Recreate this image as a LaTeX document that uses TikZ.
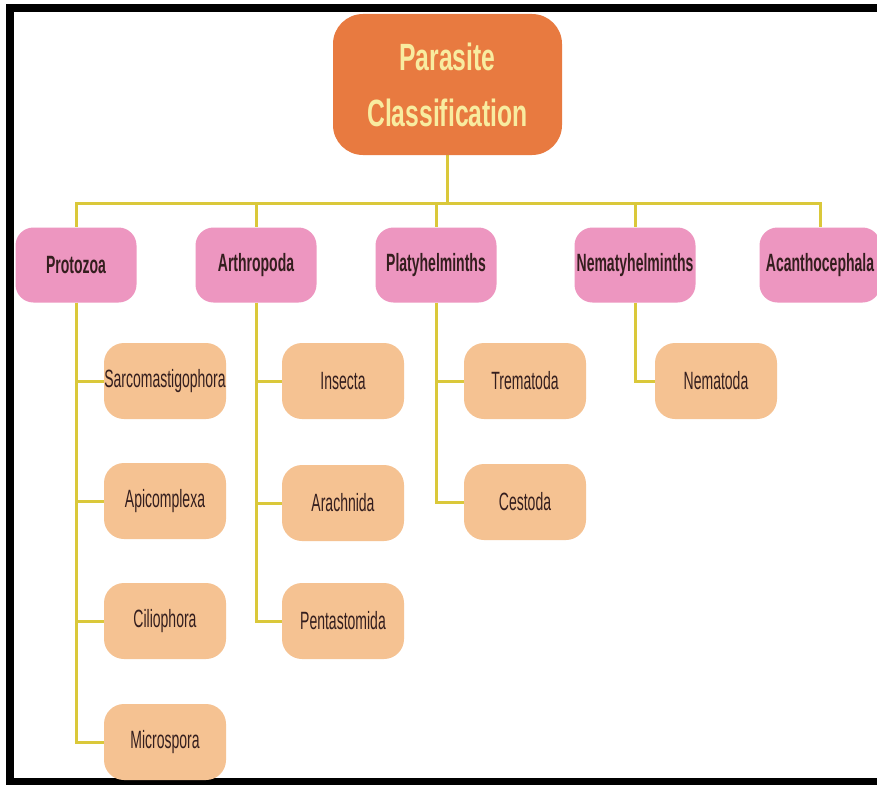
\documentclass[tikz,border=0pt]{standalone}
\usepackage{fontspec}
\newfontfamily\titlefont{Liberation Sans}[FakeStretch=0.65]
\newfontfamily\narrowfont{Liberation Sans}[FakeStretch=0.56]
\usepackage{xcolor}
\usepackage{tikz}
\usetikzlibrary{positioning, backgrounds}

\definecolor{rootorange}{RGB}{232,122,64}
\definecolor{rootText}{RGB}{248,236,160}
\definecolor{phylumPink}{RGB}{237,150,192}
\definecolor{groupTan}{RGB}{245,194,146}
\definecolor{linkYellow}{RGB}{218,200,58}
\definecolor{darkText}{RGB}{52,30,30}

\tikzset{
  rootbox/.style={fill=rootorange, rounded corners=30pt, minimum width=229pt,
    minimum height=141pt, inner sep=0pt, align=center, text=rootText,
    font=\titlefont\bfseries\fontsize{38}{56}\selectfont},
  phylum/.style={fill=phylumPink, rounded corners=18pt, minimum width=121pt,
    minimum height=75pt, inner sep=0pt, text=darkText,
    font=\narrowfont\bfseries\fontsize{25}{28}\selectfont},
  group/.style={fill=groupTan, rounded corners=20pt, minimum width=122pt,
    minimum height=76pt, inner sep=0pt, text=darkText,
    font=\narrowfont\fontsize{25}{28}\selectfont},
  link/.style={draw=linkYellow, line width=3pt}
}

\begin{document}
\begin{tikzpicture}[x=1pt, y=-1pt]
\clip (0,0) rectangle (877,784);
\begin{scope}[on background layer]
  \fill[white] (0,0) rectangle (877,784);
\end{scope}

% Frame
\draw[line width=8pt] (10,8) rectangle (900,782);

% Root
\node[rootbox] (root) at (447.5,84.5) {Parasite\\Classification};
\coordinate (bus) at (0,203);

% Phyla
\foreach \nm/\x/\txt in {protozoa/76/Protozoa, arthropoda/256/Arthropoda,
    platy/436/Platyhelminths, nemat/635/Nematyhelminths, acantho/820/Acanthocephala} {
  \node[phylum] (\nm) at (\x,265) {\txt};
  \begin{scope}[on background layer]
    \draw[link] (root.south) -- (root.south |- bus) -| (\nm.north);
  \end{scope}
}

% Classes
\foreach \nm/\up/\x/\y/\txt in {sarco/protozoa/165/381/Sarcomastigophora,
    apico/protozoa/165/501/Apicomplexa, cilio/protozoa/165/621/Ciliophora,
    micro/protozoa/165/742/Microspora,
    insecta/arthropoda/343/381/Insecta, arachnida/arthropoda/343/503/Arachnida,
    penta/arthropoda/343/621/Pentastomida,
    trema/platy/525/381/Trematoda, cesto/platy/525/502/Cestoda,
    nemato/nemat/716/381/Nematoda} {
  \node[group] (\nm) at (\x,\y) {\txt};
  \begin{scope}[on background layer]
    \draw[link] (\up.south) |- (\nm.west);
  \end{scope}
}

\end{tikzpicture}
\end{document}
